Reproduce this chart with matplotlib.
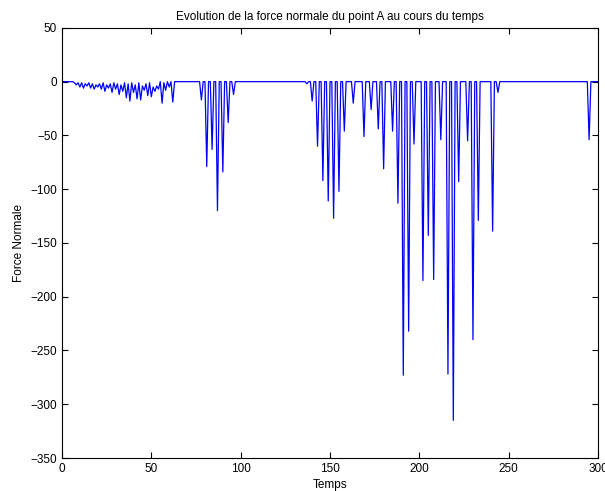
import numpy as np
import matplotlib

matplotlib.use('Agg')
import matplotlib.pyplot as plt

plt.rcParams['font.family'] = ['Liberation Sans', 'DejaVu Sans']

# echantillons de temps
temps = np.arange(0, 301)

# oscillations du debut (t = 7 .. 63)
osc_start = 7
osc_values = [-1, -3, -1, -5, -1, -6, -2, -4, -1, -6, -2, -7, -3, -5, -2, -7,
              -1, -9, -3, -6, -2, -10, -1, -7, -2, -12, -3, -9, -1, -15, -2, -18,
              -1, -10, -3, -16, -1, -17, -4, -8, -2, -13, -1, -14, -5, -9, -4, -7,
              0, -20, -1, -8, 0, -5, 0, -19, 0]

# pics isoles
spike_times = [78, 81, 84, 87, 90, 93, 96,
               137, 140, 143, 146, 149, 152, 155, 158, 163,
               169, 173, 177, 180, 185, 188, 191, 194, 197,
               202, 205, 208, 212, 216, 219, 222, 227, 230, 233,
               241, 244, 295]
spike_values = [-17, -79, -63, -120, -84, -38, -12,
                -2, -18, -60, -92, -111, -127, -102, -46, -20,
                -51, -26, -44, -81, -46, -113, -273, -232, -58,
                -185, -143, -184, -54, -272, -315, -93, -55, -240, -129,
                -139, -10, -54]

force = np.zeros(len(temps))
force[osc_start:osc_start + len(osc_values)] = osc_values
force[spike_times] = spike_values

fig = plt.figure(figsize=(6.05, 4.91), dpi=100)
ax = fig.add_axes([0.1025, 0.0672, 0.886, 0.876])
ax.plot(temps, force, color='blue', linewidth=0.9)

ax.set_xlim(0, 300)
ax.set_ylim(-350, 50)
ax.set_xticks(np.arange(0, 301, 50))
ax.set_yticks(np.arange(-350, 51, 50))
ax.tick_params(direction='in', top=True, right=True, labelsize=8.5, length=4)

ax.set_title('Evolution de la force normale du point A au cours du temps', fontsize=8.5)
ax.set_xlabel('Temps', fontsize=8.5, labelpad=3)
ax.set_ylabel('Force Normale', fontsize=8.5)

fig.savefig('out.png', dpi=100)
